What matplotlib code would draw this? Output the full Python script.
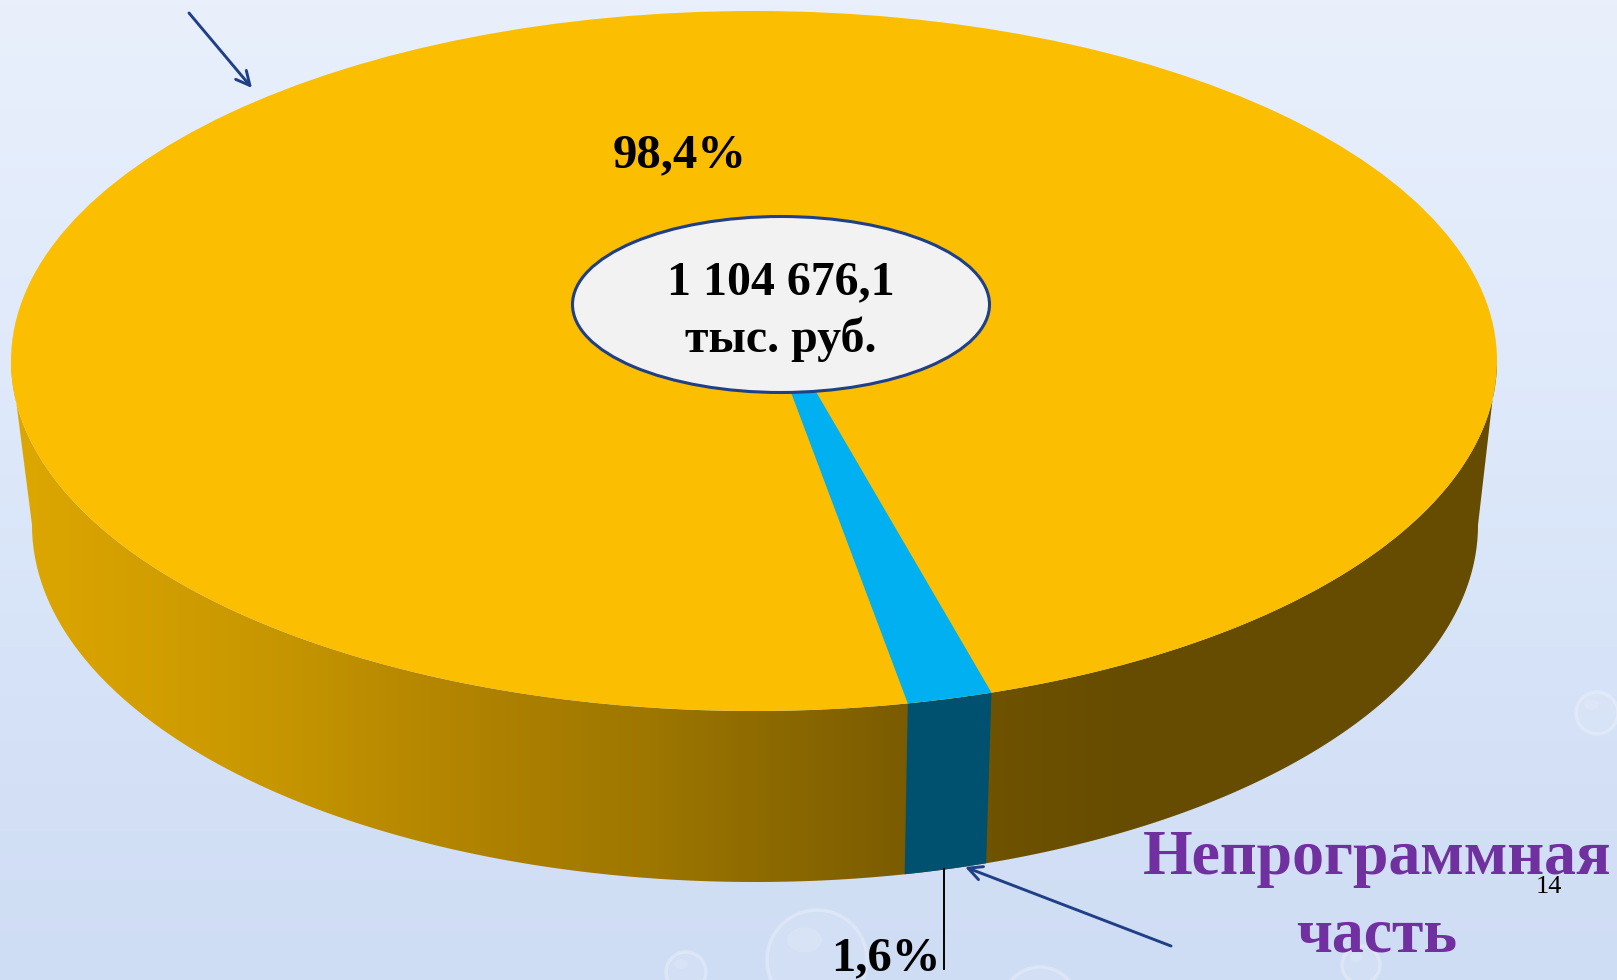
import numpy as np
import matplotlib
matplotlib.use("Agg")
import matplotlib.pyplot as plt
from matplotlib.patches import Ellipse, Polygon, Circle
from matplotlib.colors import LinearSegmentedColormap

# ---- data ----
parts = ["Программная часть", "Непрограммная часть"]
shares = [98.4, 1.6]
share_labels = ["98,4%", "1,6%"]
total_label = ["1 104 676,1", "тыс. руб."]
page_number = "14"

W, H = 1617, 980
fig = plt.figure(figsize=(W / 100, H / 100), dpi=100)
ax = fig.add_axes([0, 0, 1, 1])
ax.set_xlim(0, W)
ax.set_ylim(H, 0)
ax.axis("off")
SERIF = "Liberation Serif"

# background
bg = LinearSegmentedColormap.from_list(
    "bg", [(0, "#E9F0FC"), (0.45, "#DDE8FA"), (0.8, "#D3E0F6"), (1, "#CFDDF4")])
ax.imshow(np.linspace(0, 1, 256)[:, None], extent=(0, W, H, 0), cmap=bg, aspect="auto", zorder=0)

# faint water drops
for (x, y, r) in [(1597, 713, 21), (817, 960, 50), (686, 972, 20), (1361, 965, 19), (1040, 1005, 38)]:
    ax.add_patch(Circle((x, y), r, fc=(1, 1, 1, 0.08), ec=(1, 1, 1, 0.25), lw=2.5, zorder=1))
    ax.add_patch(Ellipse((x - r * 0.25, y - r * 0.4), r * 0.7, r * 0.5, fc=(1, 1, 1, 0.14), ec="none", zorder=1))

# perspective disc geometry
cx, cy, a, b = 754, 361, 743, 350
cx2, cy2, a2, b2 = 755, 525, 723, 357
px, py = -0.015, -0.15   # perspective shift of the disc centre, in ellipse units


def project(theta):
    """circle angle -> point of the unit ellipse (perspective shift of the centre)"""
    x, y = np.cos(theta), np.sin(theta)
    p2 = px ** 2 + py ** 2
    d = px * x + py * y
    par_x, par_y = d / p2 * px, d / p2 * py
    k = np.sqrt(1 - p2)
    return (px + par_x + k * (x - par_x)) / (1 + d), (py + par_y + k * (y - par_y)) / (1 + d)


def top_pts(theta):
    u, v = project(theta)
    return np.column_stack([cx + a * u, cy + b * v])


def low_pts(theta):
    u, v = project(theta)
    return np.column_stack([cx2 + a2 * u, cy2 + b2 * v])


# slice angle from the values (y axis points down; 90 deg = towards viewer)
span = np.deg2rad(360 * shares[1] / sum(shares))
mid = np.deg2rad(90 - 13.95)
th = np.linspace(mid - span / 2, mid + span / 2, 12)

# side wall
t = np.linspace(0, np.pi, 400)
wall = np.vstack([np.column_stack([cx + a * np.cos(t), cy + b * np.sin(t)]),
                  np.column_stack([cx2 + a2 * np.cos(t[::-1]), cy2 + b2 * np.sin(t[::-1])])])
wall_cmap = LinearSegmentedColormap.from_list(
    "wall", [(0, "#DDA700"), (0.02, "#DCA600"), (0.155, "#C99800"), (0.31, "#AD8000"),
             (0.40, "#9E7700"), (0.557, "#7B5C00"), (0.62, "#6E5200"), (0.70, "#664C00"), (1, "#664C00")])
im = ax.imshow(np.linspace(0, 1, 512)[None, :], extent=(0, W, 900, 300), cmap=wall_cmap,
               aspect="auto", zorder=2)
wp = Polygon(wall, closed=True, transform=ax.transData, fc="none", ec="none")
ax.add_patch(wp)
im.set_clip_path(wp)
ax.set_xlim(0, W)
ax.set_ylim(H, 0)

# wall of the small slice
ax.add_patch(Polygon(np.vstack([top_pts(th), low_pts(th[::-1])]), closed=True,
                     fc="#00506F", ec="none", zorder=3))

# top face
ax.add_patch(Ellipse((cx, cy), 2 * a, 2 * b, fc="#FBBE00", ec="none", zorder=4))
apex = np.array([[745, 270]])
ax.add_patch(Polygon(np.vstack([apex, top_pts(th)]), closed=True, fc="#00B0F0", ec="none", zorder=5))

# centre oval
ax.add_patch(Ellipse((781, 304.5), 417, 176, fc="#F2F2F2", ec="#1F3F86", lw=2.2, zorder=6))
ax.text(781, 294, total_label[0], family=SERIF, weight="bold", fontsize=34.5, color="black",
        ha="center", va="baseline", zorder=7)
ax.text(781, 352, total_label[1], family=SERIF, weight="bold", fontsize=34.5, color="black",
        ha="center", va="baseline", zorder=7)

# labels
ax.text(680, 167, share_labels[0], family=SERIF, weight="bold", fontsize=35, color="black",
        ha="center", va="baseline", zorder=7)
ax.text(885.5, 970, share_labels[1], family=SERIF, weight="bold", fontsize=35, color="black",
        ha="center", va="baseline", zorder=7)
name = parts[1].split()
ax.text(1377, 874, name[0], family=SERIF, weight="bold", fontsize=46, color="#7030A0",
        ha="center", va="baseline", zorder=7)
ax.text(1377, 951, name[1], family=SERIF, weight="bold", fontsize=46, color="#7030A0",
        ha="center", va="baseline", zorder=7)
ax.text(1549, 893, page_number, family=SERIF, fontsize=19, color="black",
        ha="center", va="baseline", zorder=8)

# leader line and arrows
ax.plot([944, 944], [868, 970], color="black", lw=1.4, zorder=7, solid_capstyle="butt")
for start, end in [((189, 13), (252, 88)), ((1171, 946), (965, 867))]:
    ax.annotate("", xy=end, xytext=start, zorder=7,
                arrowprops=dict(arrowstyle="->,head_length=1.0,head_width=0.5", color="#1F3F86",
                                lw=2.1, shrinkA=0, shrinkB=0))

fig.savefig("out.png", dpi=100)
